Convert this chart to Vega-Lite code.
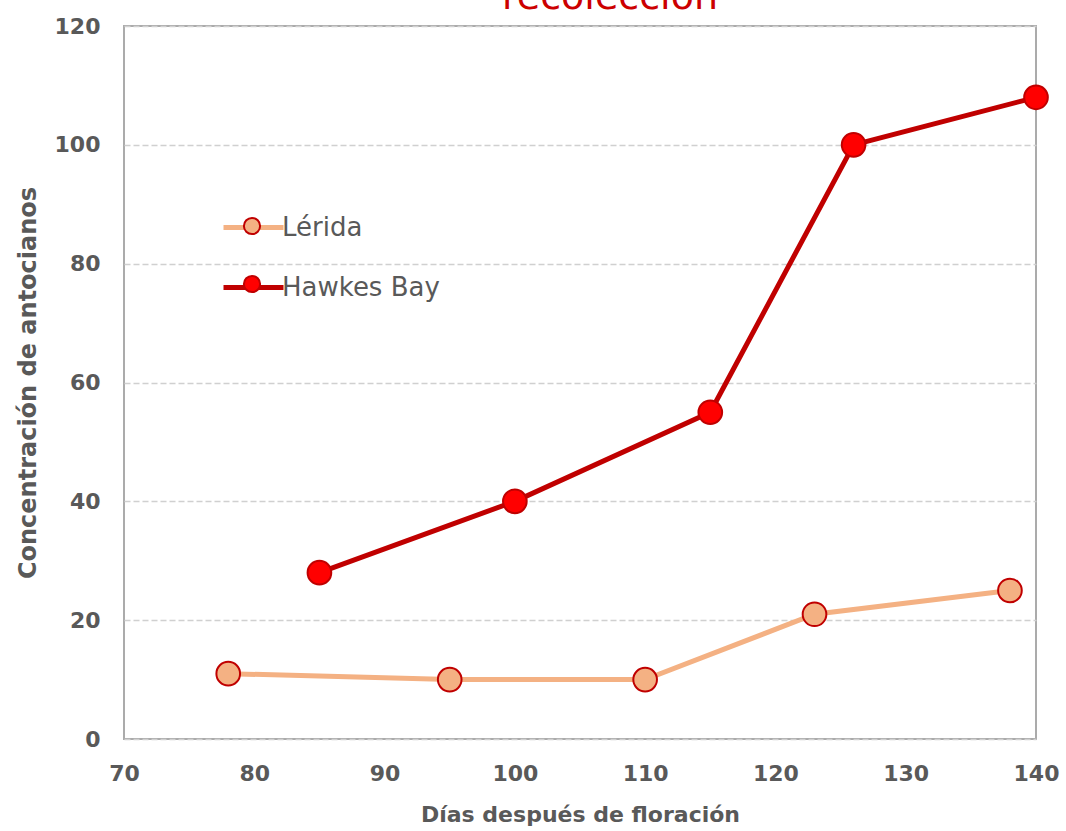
{
  "$schema": "https://vega.github.io/schema/vega-lite/v6.json",
  "width": 912,
  "height": 713,
  "autosize": {"type": "none"},
  "padding": {"left": 124, "top": 26, "right": 30, "bottom": 92},
  "background": "white",
  "title": {
    "text": "recolección",
    "color": "#CC0000",
    "font": "DejaVu Sans",
    "fontSize": 38,
    "fontWeight": "normal",
    "anchor": "middle",
    "frame": "group",
    "baseline": "alphabetic",
    "dx": 30,
    "dy": 36,
    "offset": 4
  },
  "config": {
    "view": {"stroke": "#ABABAB", "strokeWidth": 2},
    "font": "DejaVu Sans",
    "axis": {
      "labelFont": "DejaVu Sans",
      "labelFontWeight": "bold",
      "labelFontSize": 22,
      "labelColor": "#595959",
      "titleFont": "DejaVu Sans",
      "titleFontWeight": "bold",
      "titleFontSize": 22,
      "titleColor": "#595959",
      "domain": false,
      "ticks": false,
      "tickSize": 0
    }
  },
  "data": {
    "values": [
      {"serie": "Lérida", "dias": 78, "antocianos": 11},
      {"serie": "Lérida", "dias": 95, "antocianos": 10},
      {"serie": "Lérida", "dias": 110, "antocianos": 10},
      {"serie": "Lérida", "dias": 123, "antocianos": 21},
      {"serie": "Lérida", "dias": 138, "antocianos": 25},
      {"serie": "Hawkes Bay", "dias": 85, "antocianos": 28},
      {"serie": "Hawkes Bay", "dias": 100, "antocianos": 40},
      {"serie": "Hawkes Bay", "dias": 115, "antocianos": 55},
      {"serie": "Hawkes Bay", "dias": 126, "antocianos": 100},
      {"serie": "Hawkes Bay", "dias": 140, "antocianos": 108}
    ]
  },
  "encoding": {
    "x": {
      "field": "dias",
      "type": "quantitative",
      "scale": {"domain": [70, 140], "nice": false, "zero": false},
      "axis": {
        "title": "Días después de floración",
        "values": [70, 80, 90, 100, 110, 120, 130, 140],
        "grid": false,
        "labelPadding": 24,
        "titlePadding": 20,
        "labelFlush": false
      }
    },
    "y": {
      "field": "antocianos",
      "type": "quantitative",
      "scale": {"domain": [0, 120], "nice": false},
      "axis": {
        "title": "Concentración de antocianos",
        "titleFontSize": 24,
        "values": [0, 20, 40, 60, 80, 100, 120],
        "grid": true,
        "gridColor": "#D0D0D0",
        "gridWidth": 1.5,
        "gridDash": [6, 3],
        "labelPadding": 24,
        "titlePadding": 14
      }
    }
  },
  "layer": [
    {
      "mark": {"type": "line", "strokeWidth": 5},
      "encoding": {
        "stroke": {
          "field": "serie",
          "type": "nominal",
          "sort": ["Lérida", "Hawkes Bay"],
          "scale": {"range": ["#F4B183", "#C00000"]},
          "legend": {
            "title": null,
            "orient": "none",
            "legendX": 97,
            "legendY": 169,
            "padding": 0,
            "symbolType": "stroke",
            "symbolSize": 3600,
            "symbolStrokeWidth": 5,
            "rowPadding": 14,
            "labelOffset": -4,
            "labelFont": "DejaVu Sans",
            "labelFontSize": 26,
            "labelColor": "#595959"
          }
        }
      }
    },
    {
      "mark": {"type": "point", "filled": true, "opacity": 1, "stroke": "#C00000", "strokeWidth": 2, "size": 560},
      "encoding": {
        "fill": {
          "field": "serie",
          "type": "nominal",
          "scale": {"domain": ["Lérida", "Hawkes Bay"], "range": ["#F4B183", "#FF0000"]},
          "legend": {
            "title": null,
            "orient": "none",
            "legendX": 97,
            "legendY": 169,
            "padding": 0,
            "symbolType": "M0.27,0 A0.27,0.27 0 1,1 -0.27,0 A0.27,0.27 0 1,1 0.27,0 Z",
            "symbolSize": 3600,
            "symbolStrokeColor": "#C00000",
            "symbolStrokeWidth": 2,
            "symbolOpacity": 1,
            "rowPadding": 14,
            "labelOffset": -4,
            "labelFont": "DejaVu Sans",
            "labelFontSize": 26,
            "labelExpr": "''"
          }
        }
      }
    }
  ]
}
